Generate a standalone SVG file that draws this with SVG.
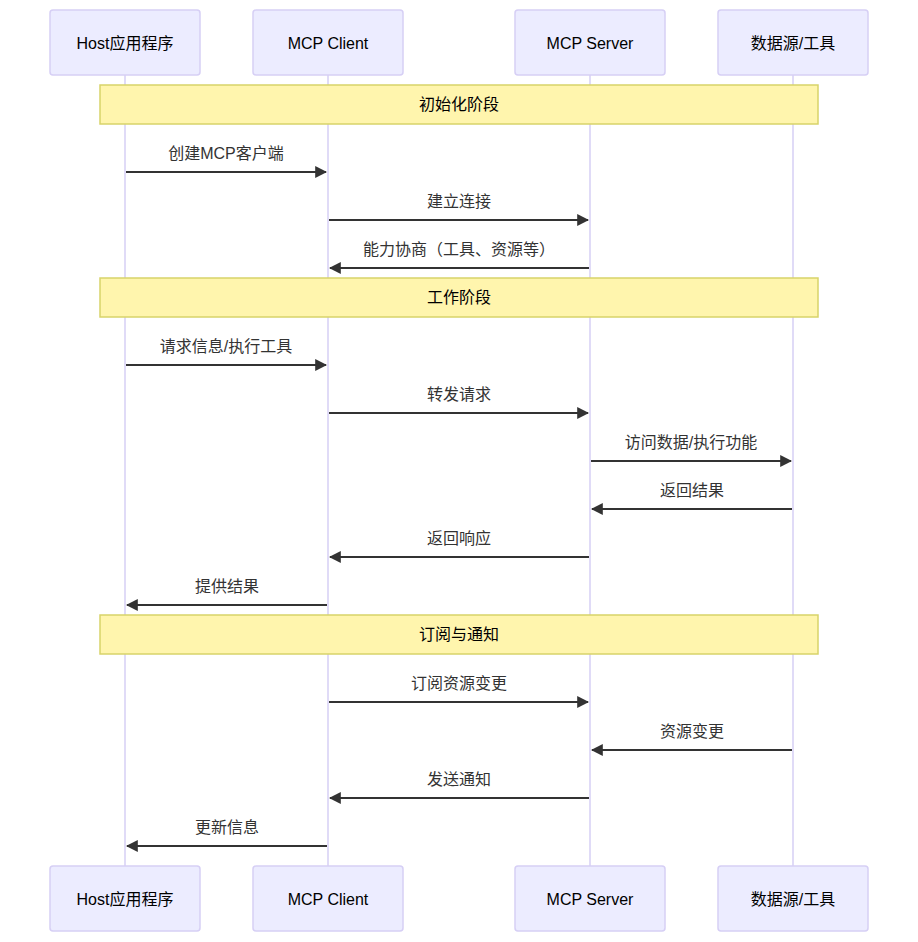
<svg xmlns="http://www.w3.org/2000/svg" width="918" height="942" viewBox="0 0 918 942">
<defs>
<marker id="ah" viewBox="0 0 10 10" refX="9" refY="5" markerWidth="12" markerHeight="12" markerUnits="userSpaceOnUse" orient="auto-start-reverse">
<path d="M0,0 L10,5 L0,10 z" fill="#333"/>
</marker>
<style>
text{font-family:"Liberation Sans","Noto Sans CJK SC",sans-serif;font-size:16px;fill:#333;text-anchor:middle;dominant-baseline:central}
.actor rect{fill:#ECECFF;stroke:#d6cff5;stroke-width:1.5}
.actor text{fill:#000}
.life{stroke:#d6cff5;stroke-width:1.5}
.note rect{fill:#fff5ad;stroke:#d8d36a;stroke-width:1.5}
.note text{fill:#000}
.msg{stroke:#333;stroke-width:2;fill:none;marker-end:url(#ah)}
</style>
</defs>
<rect width="918" height="942" fill="#fff"/>
<g id="lifelines">
<line class="life" x1="125" y1="75" x2="125" y2="866"/>
<line class="life" x1="328" y1="75" x2="328" y2="866"/>
<line class="life" x1="590" y1="75" x2="590" y2="866"/>
<line class="life" x1="793" y1="75" x2="793" y2="866"/>
</g>
<g id="host-top" class="actor"><rect x="50" y="10" width="150" height="65" rx="3"/><text x="125" y="43">Host应用程序</text></g>
<g id="client-top" class="actor"><rect x="253" y="10" width="150" height="65" rx="3"/><text x="328" y="43">MCP Client</text></g>
<g id="server-top" class="actor"><rect x="515" y="10" width="150" height="65" rx="3"/><text x="590" y="43">MCP Server</text></g>
<g id="data-top" class="actor"><rect x="718" y="10" width="150" height="65" rx="3"/><text x="793" y="43">数据源/工具</text></g>
<g id="host-bottom" class="actor"><rect x="50" y="866" width="150" height="65" rx="3"/><text x="125" y="899">Host应用程序</text></g>
<g id="client-bottom" class="actor"><rect x="253" y="866" width="150" height="65" rx="3"/><text x="328" y="899">MCP Client</text></g>
<g id="server-bottom" class="actor"><rect x="515" y="866" width="150" height="65" rx="3"/><text x="590" y="899">MCP Server</text></g>
<g id="data-bottom" class="actor"><rect x="718" y="866" width="150" height="65" rx="3"/><text x="793" y="899">数据源/工具</text></g>
<g id="note-init" class="note"><rect x="100" y="85" width="718" height="39"/><text x="459" y="104">初始化阶段</text></g>
<g id="note-work" class="note"><rect x="100" y="278" width="718" height="39"/><text x="459" y="297">工作阶段</text></g>
<g id="note-sub" class="note"><rect x="100" y="615" width="718" height="39"/><text x="459" y="634">订阅与通知</text></g>
<g id="connectors">
<line class="msg" x1="126" y1="172" x2="326" y2="172"/><text x="226" y="153">创建MCP客户端</text>
<line class="msg" x1="329" y1="220" x2="588" y2="220"/><text x="459" y="201">建立连接</text>
<line class="msg" x1="589" y1="268" x2="330" y2="268"/><text x="459" y="249">能力协商（工具、资源等）</text>
<line class="msg" x1="126" y1="365" x2="326" y2="365"/><text x="226" y="346">请求信息/执行工具</text>
<line class="msg" x1="329" y1="413" x2="588" y2="413"/><text x="459" y="394">转发请求</text>
<line class="msg" x1="591" y1="461" x2="791" y2="461"/><text x="691" y="442">访问数据/执行功能</text>
<line class="msg" x1="792" y1="509" x2="592" y2="509"/><text x="692" y="490">返回结果</text>
<line class="msg" x1="589" y1="557" x2="330" y2="557"/><text x="459" y="538">返回响应</text>
<line class="msg" x1="327" y1="605" x2="127" y2="605"/><text x="227" y="586">提供结果</text>
<line class="msg" x1="329" y1="702" x2="588" y2="702"/><text x="459" y="683">订阅资源变更</text>
<line class="msg" x1="792" y1="750" x2="592" y2="750"/><text x="692" y="731">资源变更</text>
<line class="msg" x1="589" y1="798" x2="330" y2="798"/><text x="459" y="779">发送通知</text>
<line class="msg" x1="327" y1="846" x2="127" y2="846"/><text x="227" y="827">更新信息</text>
</g>
</svg>
